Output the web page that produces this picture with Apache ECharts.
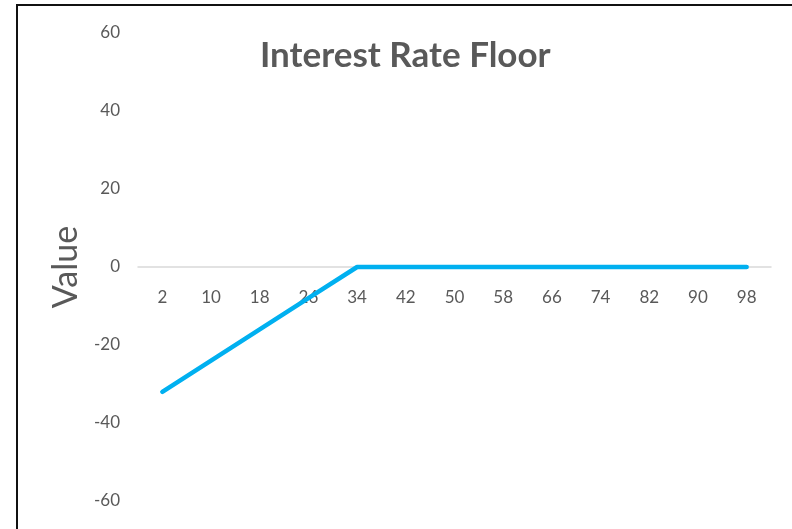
<!DOCTYPE html>
<html>
<head>
<meta charset="utf-8">
<script src="https://cdn.jsdelivr.net/npm/echarts@6/dist/echarts.min.js"></script>
<style>
  html, body { margin: 0; padding: 0; background: #fff; overflow: hidden; }
  #chart { position: absolute; left: 0; top: 0; width: 792px; height: 529px; }
  #frame { position: absolute; left: 16px; top: 4px; width: 900px; height: 700px;
           border: 2.5px solid #111; pointer-events: none; box-sizing: border-box; }
</style>
</head>
<body>
<div id="chart"></div>
<div id="frame"></div>
<script>
// Interest rate floor payoff, read at each labelled rate
const rates = [2, 10, 18, 26, 34, 42, 50, 58, 66, 74, 82, 90, 98];
const values = [-32, -24, -16, -8, 0, 0, 0, 0, 0, 0, 0, 0, 0];
const rateTicks = [2, 10, 18, 26, 34, 42, 50, 58, 66, 74, 82, 90, 98];
const valueTicks = [-60, -40, -20, 0, 20, 40, 60];

const font = 'Lato, "Open Sans", sans-serif';
const grey = '#595959';

const gridTop = 33, gridBottom = 28, chartHeight = 529;
const plotHeight = chartHeight - gridTop - gridBottom;
const yMin = valueTicks[0], yMax = valueTicks[valueTicks.length - 1];
// lift the category axis from the plot bottom up to the zero line
const zeroOffset = -plotHeight * (0 - yMin) / (yMax - yMin);

const chart = echarts.init(document.getElementById('chart'), null, { renderer: 'canvas' });
chart.setOption({
  animation: false,
  title: {
    text: 'Interest Rate Floor',
    left: 255,
    top: 33,
    textStyle: { fontFamily: font, fontWeight: 'bold', fontSize: 35, color: grey }
  },
  grid: { left: 138, right: 21, top: gridTop, bottom: gridBottom, outerBoundsMode: 'none', containLabel: false },
  xAxis: {
    type: 'value',
    min: -2,
    max: 102,
    position: 'bottom',
    offset: zeroOffset,
    axisLine: { show: true, onZero: false, lineStyle: { color: '#d9d9d9', width: 1.5 } },
    axisTick: { show: false },
    splitLine: { show: false },
    axisLabel: {
      customValues: rateTicks,
      margin: 22,
      fontFamily: font,
      fontSize: 17,
      color: grey
    }
  },
  yAxis: {
    type: 'value',
    min: yMin,
    max: yMax,
    interval: 20,
    name: 'Value',
    nameLocation: 'middle',
    nameRotate: 90,
    nameGap: 49,
    nameTextStyle: { fontFamily: font, fontSize: 34, color: grey },
    axisLine: { show: false },
    axisTick: { show: false },
    splitLine: { show: false },
    axisLabel: { margin: 18, fontFamily: font, fontSize: 17, color: grey }
  },
  series: [{
    type: 'line',
    data: rates.map((r, i) => [r, values[i]]),
    showSymbol: false,
    lineStyle: { color: '#00b0f0', width: 4.5, cap: 'round', join: 'round' },
    z: 3
  }]
});
</script>
</body>
</html>
